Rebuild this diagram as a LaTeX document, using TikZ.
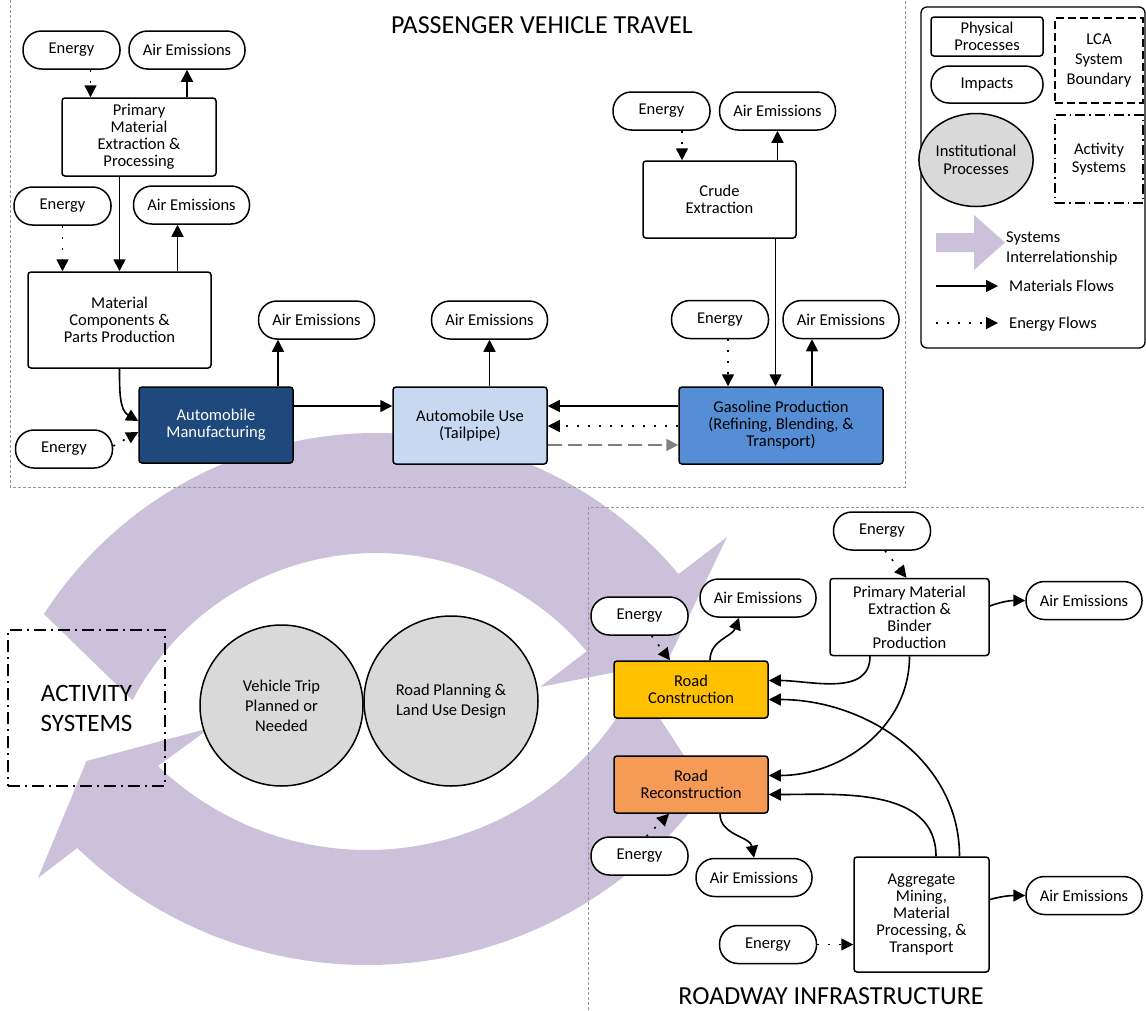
\documentclass[tikz,border=0pt]{standalone}
\usepackage{fontspec}
\setmainfont{Carlito}
\usetikzlibrary{arrows.meta,shapes.geometric,calc}

\definecolor{purp}{RGB}{204,193,218}
\definecolor{amblue}{RGB}{31,73,125}
\definecolor{aulight}{RGB}{198,217,241}
\definecolor{gpblue}{RGB}{85,142,213}
\definecolor{rcyellow}{RGB}{255,192,0}
\definecolor{rrorange}{RGB}{246,155,86}
\definecolor{instgray}{RGB}{217,217,217}
\definecolor{bndgray}{RGB}{150,150,150}
\definecolor{flowgray}{RGB}{128,128,128}

\begin{document}
\begin{tikzpicture}[x=1pt,y=1pt,
  txt/.style={font=\fontsize{16.5}{17}\selectfont},
  phys/.style={draw, line width=1.5pt, rounded corners=3pt, fill=white, align=center, inner sep=0pt, txt},
  imp/.style={draw, line width=1.5pt, rounded corners=18.5pt, fill=white, minimum height=38pt, inner sep=0pt, txt},
  energybox/.style={imp, minimum width=97pt},
  airbox/.style={imp, minimum width=116pt},
  inst/.style={ellipse, draw, line width=1.5pt, fill=instgray, align=center, inner sep=0pt, font=\fontsize{16.5}{20}\selectfont},
  mflow/.style={line width=1.6pt, -{Triangle[length=12pt,width=12pt]}},
  eflow/.style={line width=1.6pt, dash pattern=on 2pt off 9pt, -{Triangle[length=12pt,width=12pt]}},
  gflow/.style={line width=1.6pt, draw=flowgray, dash pattern=on 14pt off 6pt, -{Triangle[length=12pt,width=12pt,fill=flowgray]}},
  boundary/.style={draw=bndgray, line width=0.9pt, dash pattern=on 3pt off 2pt},
  title/.style={font=\fontsize{26}{30}\selectfont, inner sep=0pt},
]
\path[use as bounding box, fill=white] (0,0) rectangle (1146,-1010);
\clip (0,0) rectangle (1146,-1010);

% ---- systems interrelationship arrows (background) ----
\fill[purp] (376,-828) ++(147.2:395) arc[start angle=147.2, end angle=40, radius=395]
  -- (727,-537) -- (667,-662) -- (540,-687)
  -- ($(376,-828)+(40:275)$) arc[start angle=40, end angle=152.3, radius=275] -- cycle;
\fill[purp] (367,-548) ++(-35.5:417) arc[start angle=-35.5, end angle=-134, radius=417]
  -- (38,-878) -- (86.5,-761) -- (210,-728)
  -- ($(367,-548)+(-133.8:302)$) arc[start angle=-133.8, end angle=-26.6, radius=302] -- cycle;

% ---- system boundaries ----
\draw[boundary] (10,5) rectangle (905,-487);
\draw[boundary] (588,-507) rectangle (1152,-1016);
\node[title] (tpvt) at (542,-25) {PASSENGER VEHICLE TRAVEL};
\node[title] (tri) at (831,-996) {ROADWAY INFRASTRUCTURE};

% ---- passenger vehicle travel ----
\node[energybox] (E1) at (71.5,-50) {Energy};
\node[airbox] (A1) at (187,-50) {Air Emissions};
\node[phys, minimum width=154pt, minimum height=78pt] (PMEP) at (139,-137) {Primary\\Material\\Extraction \&\\Processing};
\node[energybox] (E2) at (62.5,-206) {Energy};
\node[airbox] (A2) at (191.5,-205) {Air Emissions};
\node[phys, minimum width=183pt, minimum height=96pt] (MCPP) at (119.5,-320) {Material\\Components \&\\Parts Production};
\node[airbox] (A3) at (316.5,-320) {Air Emissions};
\node[phys, minimum width=154pt, minimum height=76pt, fill=amblue, text=white] (AM) at (216,-425) {Automobile\\Manufacturing};
\node[energybox] (E3) at (64,-449) {Energy};
\node[airbox] (A4) at (489.5,-320) {Air Emissions};
\node[phys, minimum width=154pt, minimum height=77pt, fill=aulight] (AU) at (470,-425.5) {Automobile Use\\(Tailpipe)};
\node[energybox] (E4) at (661.5,-111) {Energy};
\node[airbox] (A5) at (777.5,-111) {Air Emissions};
\node[phys, minimum width=153pt, minimum height=77pt] (CE) at (719.5,-199.5) {Crude\\Extraction};
\node[energybox] (E5) at (720,-319.5) {Energy};
\node[airbox] (A6) at (841,-319.5) {Air Emissions};
\node[phys, minimum width=204pt, minimum height=77pt, fill=gpblue] (GP) at (781,-425.5) {Gasoline Production\\(Refining, Blending, \&\\Transport)};

\draw[eflow] ([xshift=19pt]E1.south) -- ([xshift=19pt]E1.south |- PMEP.north);
\draw[mflow] (PMEP.north -| A1.south) -- (A1.south);
\draw[mflow] (PMEP.south -| MCPP.north) -- (MCPP.north);
\draw[eflow] (E2.south) -- (E2.south |- MCPP.north);
\draw[mflow] ([xshift=58pt]MCPP.north) -- ([xshift=58pt]MCPP.north |- A2.south);
\draw[mflow] (MCPP.south) to[out=-90,in=150] ([yshift=4pt]AM.west);
\draw[eflow] ([yshift=3pt]E3.east) -- ([yshift=-7pt]AM.west);
\draw[mflow] ([xshift=62pt]AM.north) -- ([xshift=62pt]AM.north |- A3.south);
\draw[mflow] ([yshift=19pt]AM.east) -- ([yshift=19pt]AM.east -| AU.west);
\draw[mflow] (AU.north -| A4.south) -- (A4.south);
\draw[mflow] ([yshift=19.5pt]GP.west) -- ([yshift=19.5pt]GP.west -| AU.east);
\draw[eflow] ([yshift=-0.5pt]GP.west) -- ([yshift=-0.5pt]GP.west -| AU.east);
\draw[gflow] ([yshift=-19.5pt]AU.east) -- ([yshift=-19.5pt]AU.east -| GP.west);
\draw[eflow] ([xshift=20.5pt]E4.south) -- ([xshift=20.5pt]E4.south |- CE.north);
\draw[mflow] (CE.north -| A5.south) -- (A5.south);
\draw[mflow] ([xshift=56pt]CE.south) -- ([xshift=56pt]CE.south |- GP.north);
\draw[eflow] ([xshift=8pt]E5.south) -- ([xshift=8pt]E5.south |- GP.north);
\draw[mflow] ([xshift=31pt]GP.north) -- ([xshift=31pt]GP.north |- A6.south);

% ---- activity systems ----
\node[draw, line width=1.5pt, dash pattern=on 12pt off 5pt on 2pt off 5pt, minimum width=157pt, minimum height=156pt, align=center, font=\fontsize{25}{30}\selectfont] (ACT) at (86.5,-708) {ACTIVITY\\SYSTEMS};
\node[inst, minimum width=163pt, minimum height=161pt] (VT) at (281.5,-705.5) {Vehicle Trip\\Planned or\\Needed};
\node[inst, minimum width=174pt, minimum height=170pt] (RP) at (451,-701) {Road Planning \&\\Land Use Design};

% ---- roadway infrastructure ----
\node[energybox] (Ef) at (882,-531) {Energy};
\node[phys, minimum width=159pt, minimum height=77pt] (PMEBP) at (909.5,-617) {Primary Material\\Extraction \&\\Binder\\Production};
\node[airbox] (Ag) at (1084,-600.5) {Air Emissions};
\node[energybox] (Eg) at (639.5,-616) {Energy};
\node[airbox] (Ah) at (758,-598) {Air Emissions};
\node[phys, minimum width=154pt, minimum height=57pt, fill=rcyellow] (RC) at (691,-689.5) {Road\\Construction};
\node[phys, minimum width=154pt, minimum height=57pt, fill=rrorange] (RR) at (691,-784.5) {Road\\Reconstruction};
\node[energybox] (Ei) at (639.5,-856) {Energy};
\node[airbox] (Ai) at (754,-877.5) {Air Emissions};
\node[phys, minimum width=135pt, minimum height=115pt] (Agg) at (921.5,-914.5) {Aggregate\\Mining,\\Material\\Processing, \&\\Transport};
\node[airbox] (Aj) at (1084,-895.5) {Air Emissions};
\node[energybox] (Ej) at (768,-944.5) {Energy};

\draw[eflow] ([xshift=3pt]Ef.south) -- ([xshift=-3pt]PMEBP.north);
\draw[mflow] ([yshift=11pt]PMEBP.east) to[out=20,in=180] (Ag.west);
\draw[mflow] ([xshift=-39.5pt]PMEBP.south) to[out=-90,in=0] ([yshift=9pt]RC.east);
\draw[mflow] (PMEBP.south) to[out=-90,in=0] ([yshift=9pt]RR.east);
\draw[mflow] ([xshift=38pt]Agg.north) to[out=90,in=0] ([yshift=-10pt]RC.east);
\draw[mflow] ([xshift=14.5pt]Agg.north) to[out=90,in=0] ([yshift=-10pt]RR.east);
\draw[mflow] ([xshift=19pt]RC.north) to[out=90,in=-110] ([xshift=-19pt]Ah.south);
\draw[eflow] ([xshift=12pt]Eg.south) -- ([xshift=-21pt]RC.north);
\draw[mflow] ([xshift=29pt]RR.south) to[out=-90,in=100] (Ai.north);
\draw[eflow] ([xshift=7pt]Ei.north) -- ([xshift=-22pt]RR.south);
\draw[mflow] ([yshift=15pt]Agg.east) to[out=15,in=180] (Aj.west);
\draw[eflow] (Ej.east) -- (Ej.east -| Agg.west);

% ---- legend ----
\node[draw, line width=1.3pt, rounded corners=6pt, minimum width=224pt, minimum height=341pt] (legend) at (1033,-177.5) {};
\node[phys, minimum width=112pt, minimum height=39pt] (lpp) at (987,-36.5) {Physical\\Processes};
\node[imp, minimum width=112pt, minimum height=37pt, rounded corners=18pt] (limp) at (987,-84.5) {Impacts};
\node[inst, minimum width=93pt, minimum height=93pt, font=\fontsize{16.5}{18.3}\selectfont] (linst) at (976,-160) {Institutional\\Processes};
\node[draw, line width=1.3pt, dash pattern=on 8pt off 4pt, minimum width=88pt, minimum height=85pt, align=center, inner sep=0pt, font=\fontsize{16.5}{20}\selectfont] (llca) at (1099,-60.5) {LCA\\System\\Boundary};
\node[draw, line width=1.3pt, dash pattern=on 10pt off 4pt on 1.5pt off 4pt, minimum width=88pt, minimum height=88pt, align=center, inner sep=0pt, font=\fontsize{16.5}{18.3}\selectfont] (lact) at (1099,-159) {Activity\\Systems};
\fill[purp] (936,-233) -- (974,-233) -- (974,-215) -- (1005,-242.5) -- (974,-270) -- (974,-252) -- (936,-252) -- cycle;
\node[anchor=west, align=left, inner sep=0pt, font=\fontsize{16.5}{20}\selectfont] (lsys) at (1006,-248) {Systems\\Interrelationship};
\coordinate (lm1) at (936,-286);
\coordinate (lm2) at (998,-286);
\draw[mflow] (lm1) -- (lm2);
\node[anchor=west, inner sep=0pt, txt] (lmt) at (1009,-286) {Materials Flows};
\coordinate (le1) at (936,-323);
\coordinate (le2) at (998,-323);
\draw[eflow] (le1) -- (le2);
\node[anchor=west, inner sep=0pt, txt] (let) at (1009,-324) {Energy Flows};
\end{tikzpicture}
\end{document}
